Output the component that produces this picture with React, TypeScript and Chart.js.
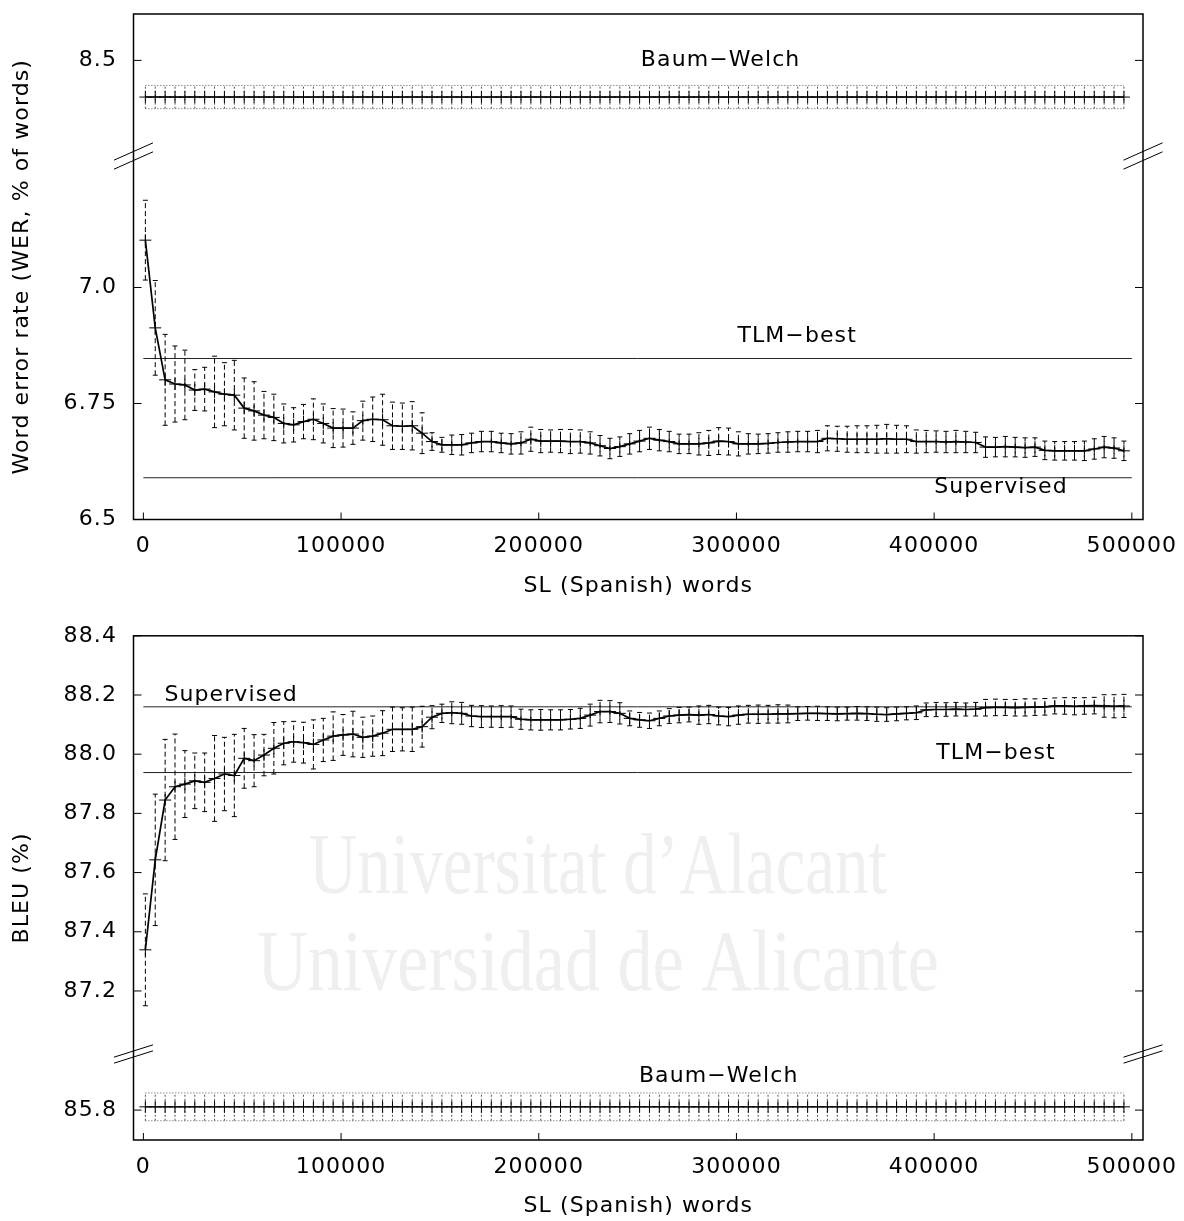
import React, { useEffect, useRef } from 'react';
import { Chart, registerables } from 'chart.js';

Chart.register(...registerables);

const FONT = "'DejaVu Sans', 'Liberation Sans', Arial, sans-serif";
const FONT_SIZE = 22;
const LETTER_SPACING = '1.1px';

// x positions of the sampled points, in thousands of SL words
const wordsK = [
  1, 6, 11, 16, 21, 26, 31, 36, 41, 46, 51, 56, 61, 66, 71, 76, 81, 86, 91, 96,
  101, 106, 111, 116, 121, 126, 131, 136, 141, 146, 151, 156, 161, 166, 171, 176, 181, 186, 191, 196,
  201, 206, 211, 216, 221, 226, 231, 236, 241, 246, 251, 256, 261, 266, 271, 276, 281, 286, 291, 296,
  301, 306, 311, 316, 321, 326, 331, 336, 341, 346, 351, 356, 361, 366, 371, 376, 381, 386, 391, 396,
  401, 406, 411, 416, 421, 426, 431, 436, 441, 446, 451, 456, 461, 466, 471, 476, 481, 486, 491, 496,
];

const xTicks = [0, 100000, 200000, 300000, 400000, 500000];
const xTickLabels = ['0', '100000', '200000', '300000', '400000', '500000'];

// ---- WER panel ----
const werMean = [
  7.102, 6.913, 6.801, 6.792, 6.790, 6.779, 6.781, 6.775, 6.770, 6.768,
  6.740, 6.734, 6.725, 6.720, 6.707, 6.704, 6.711, 6.716, 6.707, 6.697,
  6.697, 6.697, 6.713, 6.716, 6.715, 6.702, 6.701, 6.702, 6.686, 6.668,
  6.661, 6.661, 6.661, 6.665, 6.668, 6.668, 6.665, 6.663, 6.665, 6.673,
  6.669, 6.669, 6.669, 6.668, 6.668, 6.665, 6.659, 6.653, 6.657, 6.663,
  6.669, 6.675, 6.671, 6.668, 6.663, 6.663, 6.663, 6.665, 6.669, 6.668,
  6.663, 6.663, 6.663, 6.664, 6.666, 6.667, 6.668, 6.668, 6.668, 6.675,
  6.674, 6.673, 6.673, 6.673, 6.673, 6.674, 6.673, 6.673, 6.668, 6.668,
  6.668, 6.667, 6.668, 6.667, 6.666, 6.656, 6.656, 6.657, 6.656, 6.655,
  6.656, 6.649, 6.648, 6.648, 6.648, 6.648, 6.652, 6.656, 6.654, 6.648,
];
const werErr = [
  0.086, 0.102, 0.098, 0.082, 0.075, 0.044, 0.047, 0.077, 0.068, 0.075,
  0.065, 0.063, 0.051, 0.050, 0.042, 0.037, 0.037, 0.044, 0.042, 0.042,
  0.041, 0.035, 0.042, 0.048, 0.055, 0.051, 0.050, 0.052, 0.044, 0.019,
  0.016, 0.021, 0.022, 0.021, 0.022, 0.022, 0.021, 0.022, 0.024, 0.026,
  0.025, 0.024, 0.025, 0.026, 0.025, 0.024, 0.022, 0.022, 0.021, 0.022,
  0.023, 0.024, 0.023, 0.022, 0.021, 0.021, 0.024, 0.027, 0.029, 0.029,
  0.026, 0.022, 0.021, 0.021, 0.021, 0.022, 0.022, 0.022, 0.024, 0.027,
  0.027, 0.028, 0.029, 0.029, 0.030, 0.031, 0.030, 0.029, 0.025, 0.024,
  0.023, 0.023, 0.024, 0.023, 0.022, 0.022, 0.021, 0.022, 0.021, 0.021,
  0.020, 0.020, 0.020, 0.020, 0.020, 0.021, 0.022, 0.023, 0.022, 0.021,
];
const werBaumWelch = 8.421;
const werBaumWelchErr = 0.025;
const werTlmBest = 6.847;
const werSupervised = 6.59;
const werTicksLow = [6.5, 6.75, 7.0];
const werTickLabelsLow = ['6.5', '6.75', '7.0'];
const werTicksHigh = [8.5];
const werTickLabelsHigh = ['8.5'];

// ---- BLEU panel ----
const bleuMean = [
  87.339, 87.643, 87.845, 87.890, 87.899, 87.910, 87.905, 87.918, 87.933, 87.928,
  87.986, 87.978, 87.997, 88.020, 88.037, 88.042, 88.039, 88.033, 88.048, 88.061,
  88.065, 88.068, 88.057, 88.061, 88.071, 88.084, 88.084, 88.084, 88.093, 88.125,
  88.138, 88.140, 88.138, 88.129, 88.127, 88.127, 88.127, 88.127, 88.118, 88.116,
  88.116, 88.116, 88.116, 88.118, 88.121, 88.132, 88.144, 88.144, 88.138, 88.121,
  88.116, 88.113, 88.121, 88.129, 88.132, 88.134, 88.132, 88.134, 88.129, 88.127,
  88.132, 88.135, 88.135, 88.135, 88.136, 88.136, 88.137, 88.138, 88.138, 88.137,
  88.136, 88.137, 88.138, 88.137, 88.135, 88.134, 88.136, 88.138, 88.140, 88.150,
  88.151, 88.151, 88.152, 88.151, 88.152, 88.157, 88.158, 88.158, 88.157, 88.158,
  88.159, 88.160, 88.163, 88.163, 88.162, 88.163, 88.164, 88.163, 88.162, 88.163,
];
const bleuErr = [
  0.189, 0.222, 0.205, 0.178, 0.113, 0.094, 0.099, 0.145, 0.124, 0.139,
  0.101, 0.088, 0.070, 0.087, 0.073, 0.069, 0.069, 0.083, 0.073, 0.082,
  0.069, 0.077, 0.068, 0.068, 0.076, 0.075, 0.073, 0.075, 0.069, 0.039,
  0.031, 0.037, 0.037, 0.036, 0.037, 0.036, 0.037, 0.036, 0.034, 0.034,
  0.035, 0.034, 0.034, 0.033, 0.034, 0.037, 0.038, 0.037, 0.036, 0.025,
  0.025, 0.026, 0.025, 0.025, 0.026, 0.025, 0.031, 0.031, 0.030, 0.031,
  0.031, 0.030, 0.031, 0.030, 0.031, 0.030, 0.023, 0.023, 0.024, 0.023,
  0.023, 0.022, 0.023, 0.023, 0.024, 0.023, 0.023, 0.022, 0.023, 0.023,
  0.024, 0.023, 0.023, 0.022, 0.023, 0.028, 0.028, 0.027, 0.028, 0.029,
  0.028, 0.028, 0.027, 0.028, 0.029, 0.028, 0.028, 0.038, 0.039, 0.039,
];
const bleuBaumWelch = 85.811;
const bleuBaumWelchErr = 0.047;
const bleuSupervised = 88.16;
const bleuTlmBest = 87.938;
const bleuTicksHigh = [87.2, 87.4, 87.6, 87.8, 88.0, 88.2, 88.4];
const bleuTickLabelsHigh = ['87.2', '87.4', '87.6', '87.8', '88.0', '88.2', '88.4'];
const bleuTicksLow = [85.8];
const bleuTickLabelsLow = ['85.8'];

const words = wordsK.map((k) => k * 1000);

function errorBars(xs: number[], mean: number[], err: number[]) {
  const out: any[] = [];
  xs.forEach((x, i) => {
    out.push({ x, y: mean[i] - err[i] }, { x, y: mean[i] + err[i] }, { x, y: null });
  });
  return out;
}

type Label = { text: string; x: number; y: number; axis: string };

type PanelCfg = {
  mean: number[];
  err: number[];
  meanAxis: string;
  bw: number;
  bwErr: number;
  bwAxis: string;
  hlines: { y: number; axis: string }[];
  lowRange: [number, number];
  highRange: [number, number];
  lowWeight: number;
  highWeight: number;
  lowTicks: number[];
  lowLabels: string[];
  highTicks: number[];
  highLabels: string[];
  yTitle: string;
  labels: Label[];
  padTop: number;
  xBoxH: number;
  titlePadBottom: number;
  breakSlope: number;
  breakSep: number;
  watermark?: boolean;
};

function setSpacing(chart: any) {
  try {
    (chart.ctx as any).letterSpacing = LETTER_SPACING;
  } catch (e) {
    /* ignore */
  }
}

function makeConfig(p: PanelCfg): any {
  const font = { family: FONT, size: FONT_SIZE };
  const bwArr = words.map(() => p.bw);
  const bwErrArr = words.map(() => p.bwErr);
  const datasets: any[] = [
    {
      data: words.map((x, i) => ({ x, y: p.mean[i] })),
      yAxisID: p.meanAxis,
      borderColor: '#000',
      borderWidth: 1.7,
      pointStyle: 'cross',
      pointRadius: 6,
      pointBorderColor: '#000',
      pointBorderWidth: 1,
      tension: 0,
    },
    {
      data: errorBars(words, p.mean, p.err),
      yAxisID: p.meanAxis,
      borderColor: '#000',
      borderWidth: 1,
      borderDash: [5, 3],
      spanGaps: false,
      pointStyle: 'line',
      pointRadius: 2.5,
      pointBorderColor: '#000',
      pointBorderWidth: 1,
    },
    {
      data: words.map((x) => ({ x, y: p.bw })),
      yAxisID: p.bwAxis,
      borderColor: '#000',
      borderWidth: 1.4,
      pointStyle: 'cross',
      pointRadius: 6,
      pointBorderColor: '#000',
      pointBorderWidth: 1,
    },
    {
      data: errorBars(words, bwArr, bwErrArr),
      yAxisID: p.bwAxis,
      borderColor: '#555',
      borderWidth: 1,
      borderDash: [2, 2],
      spanGaps: false,
      pointRadius: 0,
    },
    {
      data: words.map((x) => ({ x, y: p.bw + p.bwErr })),
      yAxisID: p.bwAxis,
      borderColor: '#555',
      borderWidth: 1,
      borderDash: [1, 2],
      pointRadius: 0,
    },
    {
      data: words.map((x) => ({ x, y: p.bw - p.bwErr })),
      yAxisID: p.bwAxis,
      borderColor: '#555',
      borderWidth: 1,
      borderDash: [1, 2],
      pointRadius: 0,
    },
    ...p.hlines.map((h) => ({
      data: [
        { x: 0, y: h.y },
        { x: 500000, y: h.y },
      ],
      yAxisID: h.axis,
      borderColor: '#222',
      borderWidth: 1,
      pointRadius: 0,
    })),
  ];

  const yScale = (range: [number, number], weight: number, ticks: number[], labels: string[]) => ({
    type: 'linear',
    position: 'left',
    stack: 'panel',
    stackWeight: weight,
    min: range[0],
    max: range[1],
    grid: { display: false, drawTicks: false },
    border: { display: false },
    afterBuildTicks: (s: any) => {
      s.ticks = ticks.map((v) => ({ value: v }));
    },
    afterFit: (s: any) => {
      s.width = 133.5;
      s.paddingTop = 0;
      s.paddingBottom = 0;
    },
    ticks: {
      autoSkip: false,
      padding: 16.5,
      color: '#000',
      font,
      callback: (v: number) => {
        const i = ticks.indexOf(v);
        return i >= 0 ? labels[i] : '';
      },
    },
  });

  const decor = {
    id: 'decor',
    beforeUpdate(chart: any) {
      setSpacing(chart);
    },
    beforeLayout(chart: any) {
      setSpacing(chart);
    },
    beforeDraw(chart: any) {
      setSpacing(chart);
    },
    beforeDatasetsDraw(chart: any) {
      if (!p.watermark) return;
      const ctx = chart.ctx;
      ctx.save();
      ctx.letterSpacing = '0px';
      ctx.fillStyle = '#efefef';
      ctx.textAlign = 'center';
      ctx.textBaseline = 'alphabetic';
      ctx.font = "72px 'Liberation Serif', 'DejaVu Serif', serif";
      const lines = [
        { t: 'Universitat d\u2019Alacant', cx: 598, by: 278, w: 578 },
        { t: 'Universidad de Alicante', cx: 598, by: 375, w: 682 },
      ];
      for (const l of lines) {
        const m = ctx.measureText(l.t).width;
        ctx.save();
        ctx.translate(l.cx, l.by);
        ctx.scale(l.w / m, 1.2);
        ctx.fillText(l.t, 0, 0);
        ctx.restore();
      }
      ctx.restore();
    },
    afterDraw(chart: any) {
      const { ctx, chartArea: a, scales } = chart;
      ctx.save();
      ctx.strokeStyle = '#000';
      ctx.setLineDash([]);
      const line = (x1: number, y1: number, x2: number, y2: number) => {
        ctx.beginPath();
        ctx.moveTo(x1, y1);
        ctx.lineTo(x2, y2);
        ctx.stroke();
      };
      // frame
      ctx.lineWidth = 1.5;
      ctx.strokeRect(a.left, a.top, a.right - a.left, a.bottom - a.top);
      // inward ticks
      ctx.lineWidth = 1;
      for (const id of ['yLow', 'yHigh']) {
        const s = scales[id];
        for (const t of s.ticks) {
          const py = s.getPixelForValue(t.value);
          line(a.left, py, a.left + 8, py);
          line(a.right - 8, py, a.right, py);
        }
      }
      const sx = scales.x;
      for (const t of sx.ticks) {
        const px = sx.getPixelForValue(t.value);
        line(px, a.bottom, px, a.bottom - 7);
      }
      // axis break marks
      const yb = scales.yLow.top;
      const hw = 19.5;
      for (const bx of [a.left, a.right]) {
        for (const off of [-p.breakSep / 2, p.breakSep / 2]) {
          line(bx - hw, yb + off + p.breakSlope * hw, bx + hw, yb + off - p.breakSlope * hw);
        }
      }
      // curve labels
      ctx.fillStyle = '#000';
      ctx.font = `${FONT_SIZE}px ${FONT}`;
      ctx.textAlign = 'center';
      ctx.textBaseline = 'middle';
      for (const l of p.labels) {
        ctx.fillText(l.text, sx.getPixelForValue(l.x), scales[l.axis].getPixelForValue(l.y));
      }
      // y title
      ctx.translate(22.5, (a.top + a.bottom) / 2);
      ctx.rotate(-Math.PI / 2);
      ctx.fillText(p.yTitle, 0, 0);
      ctx.restore();
    },
  };

  return {
    type: 'line',
    data: { datasets },
    plugins: [decor],
    options: {
      animation: false,
      responsive: false,
      devicePixelRatio: 1,
      layout: { padding: { left: 0, right: 41, top: p.padTop, bottom: 0 } },
      plugins: { legend: { display: false }, tooltip: { enabled: false }, title: { display: false } },
      events: [],
      scales: {
        x: {
          type: 'linear',
          position: 'bottom',
          min: -5000,
          max: 505650,
          grid: { display: false, drawTicks: false },
          border: { display: false },
          afterBuildTicks: (s: any) => {
            s.ticks = xTicks.map((v) => ({ value: v }));
          },
          afterFit: (s: any) => {
            s.height = p.xBoxH;
            s.paddingLeft = 0;
            s.paddingRight = 0;
          },
          ticks: {
            autoSkip: false,
            maxRotation: 0,
            minRotation: 0,
            padding: 13.8,
            color: '#000',
            font,
            callback: (v: number) => {
              const i = xTicks.indexOf(v);
              return i >= 0 ? xTickLabels[i] : '';
            },
          },
          title: {
            display: true,
            text: 'SL (Spanish) words',
            color: '#000',
            font,
            padding: { top: 0, bottom: p.titlePadBottom },
          },
        },
        yLow: yScale(p.lowRange, p.lowWeight, p.lowTicks, p.lowLabels),
        yHigh: yScale(p.highRange, p.highWeight, p.highTicks, p.highLabels),
      },
    },
  };
}

const werPanel: PanelCfg = {
  mean: werMean,
  err: werErr,
  meanAxis: 'yLow',
  bw: werBaumWelch,
  bwErr: werBaumWelchErr,
  bwAxis: 'yHigh',
  hlines: [
    { y: werTlmBest, axis: 'yLow' },
    { y: werSupervised, axis: 'yLow' },
  ],
  lowRange: [6.5, 7.2834],
  highRange: [8.294, 8.6],
  lowWeight: 363.5,
  highWeight: 142,
  lowTicks: werTicksLow,
  lowLabels: werTickLabelsLow,
  highTicks: werTicksHigh,
  highLabels: werTickLabelsHigh,
  yTitle: 'Word error rate (WER, % of words)',
  labels: [
    { text: 'Baum\u2212Welch', x: 292000, y: 8.5, axis: 'yHigh' },
    { text: 'TLM\u2212best', x: 330700, y: 6.895, axis: 'yLow' },
    { text: 'Supervised', x: 433800, y: 6.57, axis: 'yLow' },
  ],
  padTop: 14,
  xBoxH: 90.5,
  titlePadBottom: 10.8,
  breakSlope: 0.444,
  breakSep: 9,
};

const bleuPanel: PanelCfg = {
  mean: bleuMean,
  err: bleuErr,
  meanAxis: 'yHigh',
  bw: bleuBaumWelch,
  bwErr: bleuBaumWelchErr,
  bwAxis: 'yLow',
  hlines: [
    { y: bleuSupervised, axis: 'yHigh' },
    { y: bleuTlmBest, axis: 'yHigh' },
  ],
  lowRange: [85.699, 85.9895],
  highRange: [86.987, 88.4],
  lowWeight: 86,
  highWeight: 418.2,
  lowTicks: bleuTicksLow,
  lowLabels: bleuTickLabelsLow,
  highTicks: bleuTicksHigh,
  highLabels: bleuTickLabelsHigh,
  yTitle: 'BLEU (%)',
  labels: [
    { text: 'Supervised', x: 44400, y: 88.2, axis: 'yHigh' },
    { text: 'TLM\u2212best', x: 431300, y: 88.004, axis: 'yHigh' },
    { text: 'Baum\u2212Welch', x: 291000, y: 85.915, axis: 'yLow' },
  ],
  padTop: 20.8,
  xBoxH: 81,
  titlePadBottom: 1.8,
  breakSlope: 0.316,
  breakSep: 6,
  watermark: true,
};

export default function App() {
  const r1 = useRef<HTMLCanvasElement>(null);
  const r2 = useRef<HTMLCanvasElement>(null);
  useEffect(() => {
    Chart.defaults.font.family = FONT;
    const c1 = new Chart(r1.current as HTMLCanvasElement, makeConfig(werPanel));
    const c2 = new Chart(r2.current as HTMLCanvasElement, makeConfig(bleuPanel));
    return () => {
      c1.destroy();
      c2.destroy();
    };
  }, []);
  return (
    <div style={{ position: 'absolute', left: 0, top: 0, width: 1184, height: 1221, background: '#fff' }}>
      <canvas
        ref={r1}
        width={1184}
        height={610}
        style={{ position: 'absolute', left: 0, top: 0, width: 1184, height: 610 }}
      />
      <canvas
        ref={r2}
        width={1184}
        height={606}
        style={{ position: 'absolute', left: 0, top: 615, width: 1184, height: 606 }}
      />
    </div>
  );
}
